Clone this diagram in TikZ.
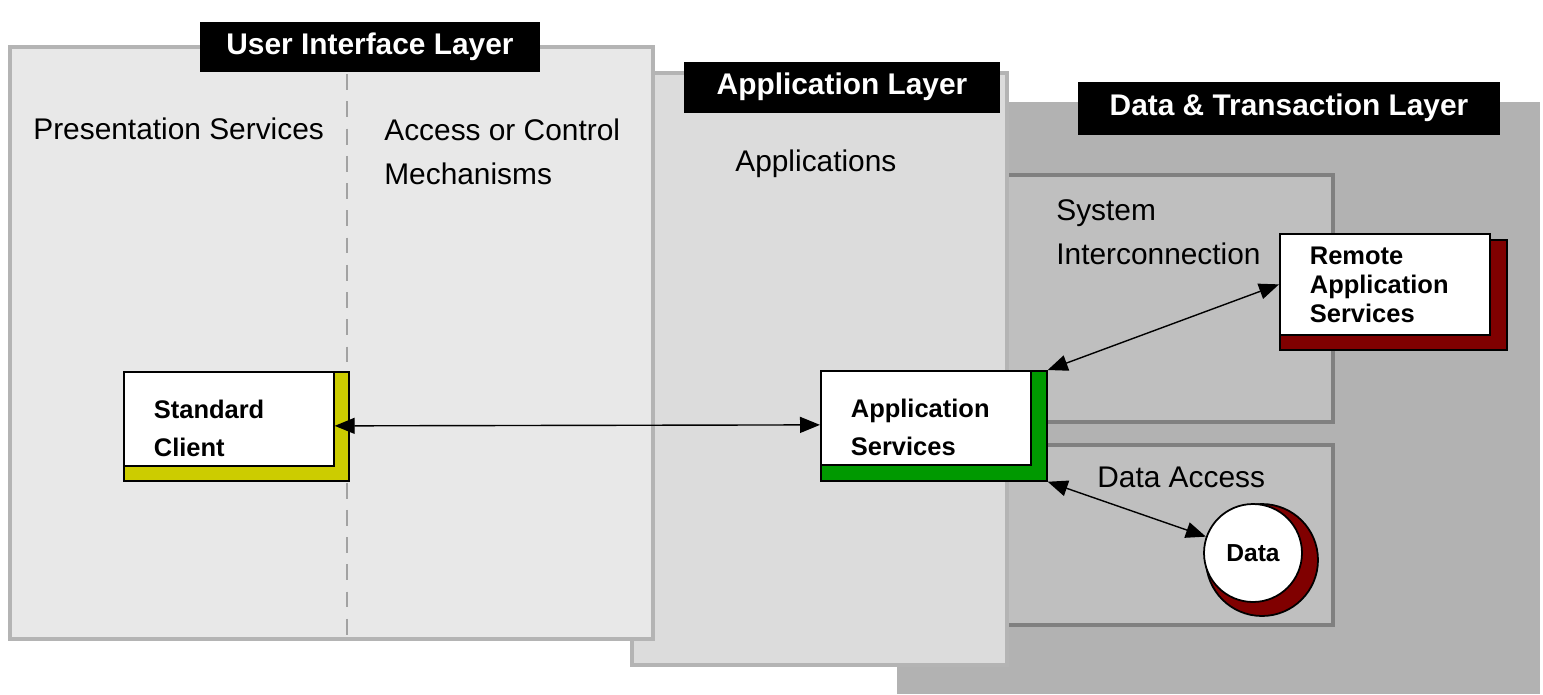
\documentclass[tikz,border=0pt]{standalone}
\usepackage{fontspec}
\setmainfont{Liberation Sans}
\usepackage{xcolor}
\usetikzlibrary{arrows.meta, positioning, calc}
\definecolor{uifill}{RGB}{232, 232, 232}
\definecolor{appfill}{RGB}{220, 220, 220}
\definecolor{datafill}{RGB}{178, 178, 178}
\definecolor{subfill}{RGB}{191, 191, 191}
\definecolor{layerline}{RGB}{180, 180, 180}
\definecolor{subline}{RGB}{128, 128, 128}
\definecolor{client}{RGB}{204, 204, 0}
\definecolor{appserv}{RGB}{0, 153, 0}
\definecolor{remote}{RGB}{128, 0, 0}

\begin{document}
\begin{tikzpicture}[x=0.02cm, y=-0.02cm,
    title/.style={fill=black, text=white, inner sep=0pt, font=\fontsize{17}{20}\selectfont\bfseries},
    caption/.style={anchor=base west, align=left, inner sep=0pt, font=\fontsize{17}{25}\selectfont},
    service/.style={rectangle, draw, line width=1pt, fill=white, anchor=north west, align=left, inner xsep=0.6cm, inner ysep=0pt, text width=3cm, minimum height=1.88cm, font=\fontsize{14.5}{21.5}\selectfont\bfseries},
    backing/.style={rectangle, draw, line width=1pt, anchor=north west, inner sep=0pt},
    link/.style={{Triangle[length=4mm, width=3.2mm]}-{Triangle[length=4mm, width=3.2mm]}, line width=0.8pt}
]
    \useasboundingbox (0,0) rectangle (1543,694);

    % Layers
    \fill[datafill] (897,102) rectangle (1540,694);
    \filldraw[fill=subfill, draw=subline, line width=2pt] (995,175) rectangle (1333,422);
    \filldraw[fill=subfill, draw=subline, line width=2pt] (995,445) rectangle (1333,625);
    \filldraw[fill=appfill, draw=layerline, line width=2pt] (632,73) rectangle (1007,665);
    \filldraw[fill=uifill, draw=layerline, line width=2pt] (10,47) rectangle (653,639);
    \draw[layerline!90!black, line width=1.7pt, dash pattern=on 9pt off 6.5pt] (347,47) -- (347,636);

    % Titles
    \node[title, minimum width=6.82cm, minimum height=1cm] (ui-title) at (370,47) {User Interface Layer};
    \node[title, minimum width=6.32cm, minimum height=1.02cm] (app-title) at (842,87) {Application Layer};
    \node[title, minimum width=8.44cm, minimum height=1.06cm] (data-title) at (1289,108) {Data \& Transaction Layer};

    % Areas (base = last line)
    \node[caption] (pres) at (33,139) {Presentation Services};
    \node[caption] (access) at (384,184) {Access or Control\\Mechanisms};
    \node[caption] (apps) at (735,171) {Applications};
    \node[caption] (sysint) at (1056,264) {System\\Interconnection};
    \node[caption] (dacc) at (1097,487) {Data Access};

    % Services
    \node[backing, fill=client, minimum width=4.5cm, minimum height=2.18cm] (sc-sh) at (123,371) {};
    \node[service] (sc) at (123,371) {\rule{0pt}{21pt}Standard\\Client};
    \node[backing, fill=appserv, minimum width=4.52cm, minimum height=2.2cm] (as-sh) at (820,370) {};
    \node[service] (as) at (820,370) {\rule{0pt}{21pt}Application\\Services};
    \node[backing, fill=remote, minimum width=4.54cm, minimum height=2.2cm] (ras-sh) at (1279,239) {};
    \node[service, minimum height=2.02cm, font=\fontsize{14.5}{16.5}\selectfont\bfseries] (ras) at (1279,233) {Remote\\Application\\Services};
    \node[circle, draw, line width=1pt, fill=remote, minimum size=2.24cm] (data-sh) at (1262,560) {};
    \node[circle, draw, line width=1pt, fill=white, minimum size=1.96cm, font=\fontsize{14}{16}\selectfont\bfseries] (data) at (1253,553) {Data};

    % Connections
    \draw[link] ([shift={(0,7)}]sc.east) -- ([shift={(0,7)}]as.west);
    \draw[link] (as-sh.north east) -- (ras.west);
    \draw[link] (as-sh.south east) -- (data);
\end{tikzpicture}
\end{document}
